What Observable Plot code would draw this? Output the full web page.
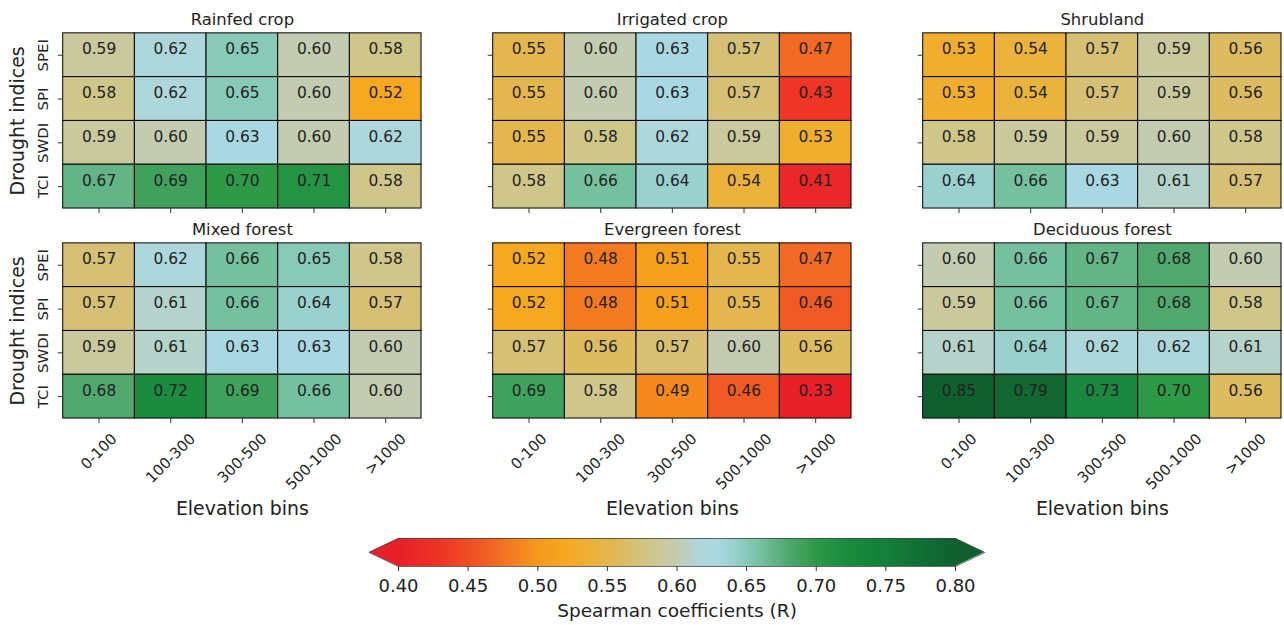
<!DOCTYPE html>
<html>
<head>
<meta charset="utf-8">
<script src="https://cdn.jsdelivr.net/npm/d3@7"></script>
<script src="https://cdn.jsdelivr.net/npm/@observablehq/plot@0.6"></script>
<style>
  html, body { margin: 0; padding: 0; background: #fff; }
  #wrap { width: 1284px; height: 625px; overflow: hidden; font-family: "DejaVu Sans", sans-serif; }
  #wrap svg { display: block; }
</style>
</head>
<body>
<div id="wrap"></div>
<script>
// ---------- data ----------
const bins = ["0-100", "100-300", "300-500", "500-1000", ">1000"];
const indices = ["SPEI", "SPI", "SWDI", "TCI"];
const panels = ["Rainfed crop", "Irrigated crop", "Shrubland", "Mixed forest", "Evergreen forest", "Deciduous forest"];

const rainfedCrop = [
  [0.59, 0.62, 0.65, 0.60, 0.58],
  [0.58, 0.62, 0.65, 0.60, 0.52],
  [0.59, 0.60, 0.63, 0.60, 0.62],
  [0.67, 0.69, 0.70, 0.71, 0.58]
];
const irrigatedCrop = [
  [0.55, 0.60, 0.63, 0.57, 0.47],
  [0.55, 0.60, 0.63, 0.57, 0.43],
  [0.55, 0.58, 0.62, 0.59, 0.53],
  [0.58, 0.66, 0.64, 0.54, 0.41]
];
const shrubland = [
  [0.53, 0.54, 0.57, 0.59, 0.56],
  [0.53, 0.54, 0.57, 0.59, 0.56],
  [0.58, 0.59, 0.59, 0.60, 0.58],
  [0.64, 0.66, 0.63, 0.61, 0.57]
];
const mixedForest = [
  [0.57, 0.62, 0.66, 0.65, 0.58],
  [0.57, 0.61, 0.66, 0.64, 0.57],
  [0.59, 0.61, 0.63, 0.63, 0.60],
  [0.68, 0.72, 0.69, 0.66, 0.60]
];
const evergreenForest = [
  [0.52, 0.48, 0.51, 0.55, 0.47],
  [0.52, 0.48, 0.51, 0.55, 0.46],
  [0.57, 0.56, 0.57, 0.60, 0.56],
  [0.69, 0.58, 0.49, 0.46, 0.33]
];
const deciduousForest = [
  [0.60, 0.66, 0.67, 0.68, 0.60],
  [0.59, 0.66, 0.67, 0.68, 0.58],
  [0.61, 0.64, 0.62, 0.62, 0.61],
  [0.85, 0.79, 0.73, 0.70, 0.56]
];
const panelValues = [rainfedCrop, irrigatedCrop, shrubland, mixedForest, evergreenForest, deciduousForest];

const cbTicks = [0.40, 0.45, 0.50, 0.55, 0.60, 0.65, 0.70, 0.75, 0.80];
const cbDomain = [0.40, 0.80];
const colorStops = [0.40, 0.43, 0.46, 0.48, 0.50, 0.52, 0.54, 0.56, 0.58, 0.60, 0.615, 0.63, 0.645, 0.66, 0.68, 0.70, 0.72, 0.75, 0.80];
const colorRange = ["#e8202a", "#ee3526", "#f05a24", "#f47a22", "#f6981e", "#f6a820", "#ebb23c", "#ddbb60", "#cfc68a",
                    "#c3ccb0", "#b0d6d8", "#a9d8e3", "#92cec4", "#75c09f", "#50a86e", "#2e9a48", "#1b8c3f", "#14803b", "#10602f"];

// ---------- table ----------
const cells = [];
panels.forEach((p, k) => {
  panelValues[k].forEach((row, i) => row.forEach((v, j) => {
    cells.push({panel: p, col: k % 3, row: Math.floor(k / 3), index: indices[i], bin: bins[j], value: v});
  }));
});
const panelInfo = panels.map((p, k) => ({panel: p, col: k % 3, row: Math.floor(k / 3)}));
const yLabels = [0, 1].flatMap(r => indices.map(ix => ({row: r, col: 0, index: ix})));
const xLabels = [0, 1, 2].flatMap(c => bins.map(b => ({row: 1, col: c, bin: b})));

const colorScale = {type: "linear", domain: colorStops, range: colorRange, clamp: true};

// measure rotated label extents so they are centred below the tick (matplotlib style)
const ctx = document.createElement("canvas").getContext("2d");
const xFont = 15;
ctx.font = `${xFont}px "DejaVu Sans"`;
const xDy = b => 12 + (ctx.measureText(b).width + xFont * 1.1) * Math.SQRT1_2 / 2;

const main = Plot.plot({
  width: 1290,
  height: 530,
  marginLeft: 63,
  marginRight: 3,
  marginTop: 32,
  marginBottom: 109,
  style: {fontFamily: "DejaVu Sans", color: "#222", background: "#fff"},
  fx: {domain: [0, 1, 2], paddingInner: 0.1667, paddingOuter: 0, axis: null},
  fy: {domain: [0, 1], paddingInner: 0.165, paddingOuter: 0, axis: null},
  x: {domain: bins, padding: 0, axis: null},
  y: {domain: indices, padding: 0, axis: null},
  color: colorScale,
  marks: [
    Plot.cell(cells, {x: "bin", y: "index", fx: "col", fy: "row", fill: "value", stroke: "#000", strokeWidth: 1, inset: 0}),
    Plot.text(cells, {x: "bin", y: "index", fx: "col", fy: "row", text: d => d.value.toFixed(2), fontSize: 15.5, dy: -6, fill: "#222"}),
    Plot.axisX({anchor: "bottom", facetAnchor: null, tickSize: 5, tickFormat: () => "", label: null, stroke: "#333"}),
    Plot.axisY({anchor: "left", facetAnchor: null, tickSize: 5, tickFormat: () => "", label: null, stroke: "#333"}),
    Plot.text(panelInfo, {fx: "col", fy: "row", text: "panel", frameAnchor: "top", lineAnchor: "middle", dy: -14, fontSize: 16.5, fill: "#222"}),
    Plot.text(yLabels, {fx: "col", fy: "row", y: "index", text: "index", frameAnchor: "left", textAnchor: "middle", lineAnchor: "middle", dx: -20, rotate: -90, fontSize: 15, fill: "#222"}),
    Plot.text([{row: 0, col: 0}, {row: 1, col: 0}], {fx: "col", fy: "row", text: () => "Drought indices", frameAnchor: "left", textAnchor: "middle", lineAnchor: "middle", dx: -45, rotate: -90, fontSize: 19, fill: "#222"}),
    ...bins.map(b => Plot.text(xLabels.filter(d => d.bin === b), {fx: "col", fy: "row", x: "bin", text: "bin", frameAnchor: "bottom", textAnchor: "middle", lineAnchor: "middle", dy: xDy(b), rotate: -45, fontSize: xFont, fill: "#222"})),
    Plot.text([0, 1, 2].map(c => ({row: 1, col: c})), {fx: "col", fy: "row", text: () => "Elevation bins", frameAnchor: "bottom", lineAnchor: "middle", dy: 91, fontSize: 19, fill: "#222"})
  ]
});

// ---------- colour bar ----------
const cbStep = 0.001;
const cbSteps = d3.range(cbDomain[0], cbDomain[1] - 1e-9, cbStep);
const cbExtend = 0.021;
const [lo, hi] = cbDomain;
const leftTri = [{y: 0, x1: lo, x2: lo}, {y: 0.5, x1: lo - cbExtend, x2: lo}, {y: 1, x1: lo, x2: lo}];
const rightTri = [{y: 0, x1: hi, x2: hi}, {y: 0.5, x1: hi, x2: hi + cbExtend}, {y: 1, x1: hi, x2: hi}];
const outline = [{x: hi, y: 1}, {x: lo, y: 1}, {x: lo - cbExtend, y: 0.5}, {x: lo, y: 0}, {x: hi, y: 0}, {x: hi + cbExtend, y: 0.5}, {x: hi, y: 1}];

const cbar = Plot.plot({
  width: 1284,
  height: 95,
  marginLeft: 398,
  marginRight: 329,
  marginTop: 10,
  marginBottom: 57,
  style: {fontFamily: "DejaVu Sans", color: "#222", background: "#fff"},
  x: {domain: cbDomain, axis: null},
  y: {domain: [0, 1], axis: null},
  color: colorScale,
  marks: [
    Plot.rect(cbSteps, {x1: d => d, x2: d => d + cbStep * 1.6, y1: 0, y2: 1, fill: d => d}),
    Plot.areaX(leftTri, {y: "y", x1: "x1", x2: "x2", fill: colorRange[0]}),
    Plot.areaX(rightTri, {y: "y", x1: "x1", x2: "x2", fill: colorRange[colorRange.length - 1]}),
    Plot.line(outline, {x: "x", y: "y", stroke: "#444", strokeWidth: 0.8, curve: "linear"}),
    Plot.axisX(cbTicks, {anchor: "bottom", tickSize: 5, tickPadding: 8, tickFormat: d => d.toFixed(2), fontSize: 18, label: null, stroke: "#333", fill: "#222"}),
    Plot.text(["Spearman coefficients (R)"], {frameAnchor: "bottom", lineAnchor: "middle", dy: 45, fontSize: 18.5, fill: "#222"})
  ]
});

const wrap = document.getElementById("wrap");
wrap.appendChild(main);
wrap.appendChild(cbar);
</script>
</body>
</html>
